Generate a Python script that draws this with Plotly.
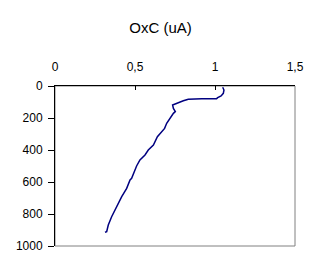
import plotly.graph_objects as go

# OxC values (uA) and depth
oxc = [1.048, 1.056, 1.052, 1.038, 1.017, 1.01, 0.917, 0.833, 0.802, 0.781, 0.75, 0.735,
       0.74, 0.752, 0.74, 0.719, 0.698, 0.685, 0.667, 0.64, 0.615, 0.583, 0.5625, 0.531,
       0.51, 0.494, 0.479, 0.469, 0.448, 0.417, 0.385, 0.354, 0.333, 0.323, 0.3125]
depth = [8, 25, 46, 62, 73, 79, 79, 83, 92, 100, 112, 119,
         140, 160, 171, 202, 233, 265, 285, 317, 369, 400, 431, 462,
         500, 546, 577, 587, 640, 692, 754, 817, 869, 910, 914]

fig = go.Figure(go.Scatter(x=oxc, y=depth, mode="lines",
                           line=dict(color="#000080", width=1.5), showlegend=False))

fig.update_layout(
    width=321, height=273,
    margin=dict(l=55, r=26, t=86, b=27),
    paper_bgcolor="white", plot_bgcolor="white",
    separators=",.",
    font=dict(family="Liberation Sans, Arial", size=12, color="black"),
    title=dict(text="OxC (uA)", x=0.5, xanchor="center", y=1 - 27.5/273, yanchor="middle",
               font=dict(size=15, color="black")),
    shapes=[dict(type="rect", xref="paper", yref="paper", x0=0, x1=1, y0=0, y1=1,
                 line=dict(color="#808080", width=1), layer="below")],
)
fig.update_xaxes(side="top", range=[0, 1.5], dtick=0.5, tick0=0, showgrid=False,
                 zeroline=False, showline=True, linecolor="black", linewidth=1,
                 ticks="inside", ticklen=4, tickcolor="black", ticklabelstandoff=9)
fig.update_yaxes(range=[1000, 0], dtick=200, tick0=0, showgrid=False, zeroline=False,
                 showline=True, linecolor="black", linewidth=1,
                 ticks="outside", ticklen=6, tickcolor="black", ticklabelstandoff=3)

fig.write_html("out.html")
